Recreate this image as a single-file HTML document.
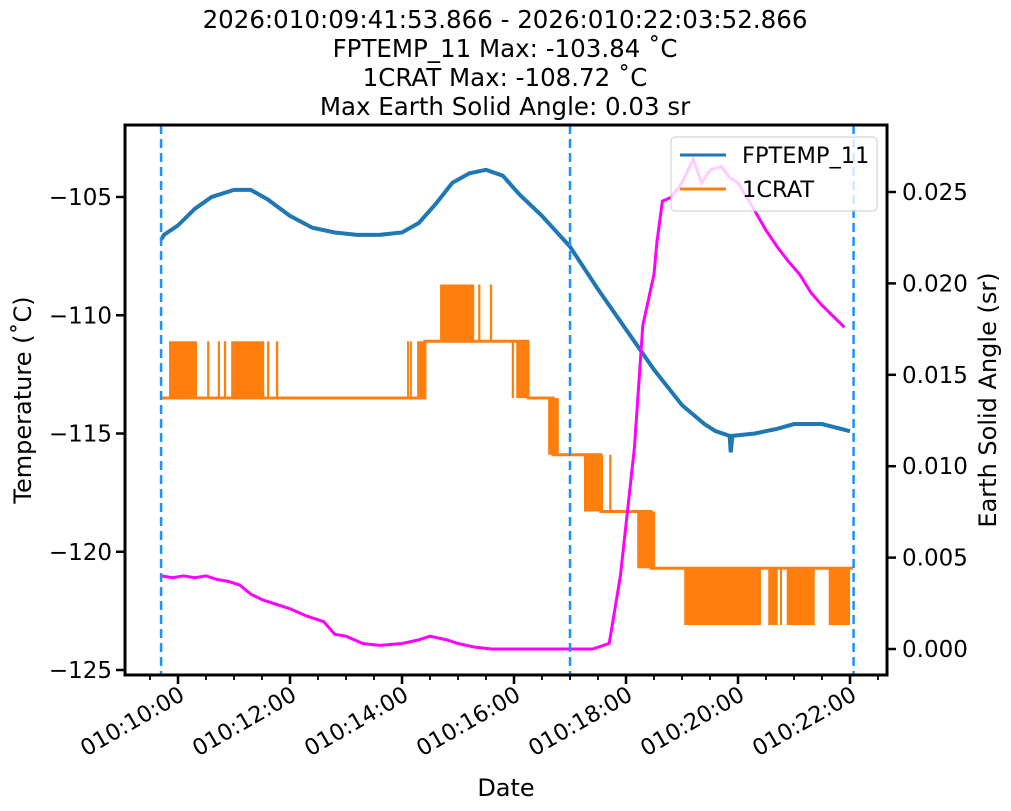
<!DOCTYPE html>
<html><head><meta charset="utf-8"><style>
html,body{margin:0;padding:0;background:#fff;}
svg{display:block;font-family:"DejaVu Sans","Liberation Sans",sans-serif;}
</style></head><body>
<svg id="chart" width="1011" height="811" viewBox="0 0 1011 811">
<g font-size="24.5" text-anchor="middle" fill="#000">
<text x="505" y="28">2026:010:09:41:53.866 - 2026:010:22:03:52.866</text>
<text x="505" y="57">FPTEMP_11 Max: -103.84 ˚C</text>
<text x="505" y="86">1CRAT Max: -108.72 ˚C</text>
<text x="505" y="115">Max Earth Solid Angle: 0.03 sr</text>
</g>
<g id="plot"></g>
</svg>
<script>
const xTicks=[10,12,14,16,18,20,22];
const xTickLabels=["010:10:00","010:12:00","010:14:00","010:16:00","010:18:00","010:20:00","010:22:00"];
const yTicks=[-105,-110,-115,-120,-125];
const y2Ticks=[0,0.005,0.010,0.015,0.020,0.025];
const y2TickLabels=["0.000","0.005","0.010","0.015","0.020","0.025"];
const vlines=[9.698,17.0,22.064];
const fpT=[9.7,9.75,10.0,10.3,10.6,11.0,11.3,11.6,12.0,12.4,12.8,13.2,13.6,14.0,14.3,14.6,14.9,15.2,15.5,15.8,16.1,16.5,17.0,17.5,18.0,18.5,19.0,19.4,19.6,19.85,19.87,19.9,20.3,20.7,21.0,21.5,22.0];
const fpV=[-106.8,-106.6,-106.2,-105.5,-105.0,-104.7,-104.7,-105.1,-105.8,-106.3,-106.5,-106.6,-106.6,-106.5,-106.1,-105.3,-104.4,-104.0,-103.85,-104.1,-104.9,-105.8,-107.1,-108.9,-110.6,-112.3,-113.8,-114.6,-114.9,-115.1,-115.8,-115.1,-115.0,-114.8,-114.6,-114.6,-114.9];
const crStepT=[9.7,14.41,16.25,16.7,17.55,18.45,22.05];
const crStepV=[-113.5,-111.1,-113.5,-115.9,-118.3,-120.7];
const bandT0=[9.84,10.52,10.71,10.82,10.95,11.59,11.75,14.09,14.14,14.27,14.68,15.36,15.57,15.96,16.04,16.61,17.25,17.70,18.2,19.04,20.54,20.75,20.87,21.20,21.62];
const bandT1=[10.34,10.56,10.75,10.86,11.54,11.63,11.79,14.11,14.17,14.41,15.29,15.40,15.61,16.0,16.25,16.80,17.59,17.74,18.52,20.41,20.71,20.78,21.37,21.36,22.0];
const bandLo=[-113.5,-113.5,-113.5,-113.5,-113.5,-113.5,-113.5,-113.5,-113.5,-113.5,-111.1,-111.1,-111.1,-113.5,-113.5,-115.9,-118.3,-118.3,-120.7,-123.1,-123.1,-123.1,-123.1,-123.1,-123.1];
const bandHi=[-111.1,-111.1,-111.1,-111.1,-111.1,-111.1,-111.1,-111.1,-111.1,-111.1,-108.7,-108.7,-108.7,-111.1,-111.1,-113.5,-115.9,-115.9,-118.3,-120.7,-120.7,-120.7,-120.7,-120.7,-120.7];
const esT=[9.7,9.9,10.1,10.3,10.5,10.7,10.9,11.1,11.3,11.5,11.7,12.0,12.3,12.6,12.8,13.0,13.3,13.6,14.0,14.3,14.5,14.8,15.0,15.3,15.6,16.0,16.5,17.0,17.4,17.7,17.9,18.0,18.15,18.3,18.5,18.55,18.65,18.8,19.0,19.2,19.35,19.5,19.7,19.85,20.0,20.2,20.5,20.7,20.9,21.1,21.3,21.5,21.7,21.9];
const esV=[0.0040,0.0039,0.0040,0.0039,0.0040,0.0038,0.0037,0.0035,0.0030,0.0027,0.0025,0.0022,0.0018,0.0015,0.0008,0.0007,0.0003,0.0002,0.0003,0.0005,0.0007,0.0005,0.0003,0.0001,0.0,0.0,0.0,0.0,0.0,0.0003,0.0040,0.0068,0.0110,0.0177,0.0205,0.0222,0.0245,0.0247,0.0255,0.0268,0.0255,0.0262,0.0264,0.0258,0.0255,0.0245,0.0229,0.0220,0.0212,0.0205,0.0195,0.0188,0.0182,0.0176];

const L=125,R=887,T=125,B=675;
const X=t=>178+(t-10)*56;
const Y=v=>197+(-105-v)*23.65;
const Y2=v=>649-v*18280;
const NS="http://www.w3.org/2000/svg";
const plot=document.getElementById('plot');
function mk(tag,attrs,parent){const e=document.createElementNS(NS,tag);for(const k in attrs)e.setAttribute(k,attrs[k]);(parent||plot).appendChild(e);return e;}
const clip=mk('clipPath',{id:'clp'});mk('rect',{x:L,y:T,width:R-L,height:B-T},clip);
const g=mk('g',{'clip-path':'url(#clp)'});


for(let i=0;i<bandT0.length;i++){
 const r=mk('rect',{x:X(bandT0[i]),y:Y(bandHi[i]),width:Math.max(2,X(bandT1[i])-X(bandT0[i])),height:Y(bandLo[i])-Y(bandHi[i]),fill:'#ff7f0e'},g);
 
 
}
let d='';
for(let i=0;i<crStepV.length;i++){d+=(i?'L':'M')+X(crStepT[i])+','+Y(crStepV[i])+'L'+X(crStepT[i+1])+','+Y(crStepV[i]);}
const cr=mk('path',{d:d,fill:'none',stroke:'#ff7f0e','stroke-width':3},g);


const fp=mk('polyline',{points:fpT.map((t,i)=>X(t)+','+Y(fpV[i])).join(' '),fill:'none',stroke:'#1f77b4','stroke-width':4},g);


const es=mk('polyline',{points:esT.map((t,i)=>X(t)+','+Y2(esV[i])).join(' '),fill:'none',stroke:'#ff00ff','stroke-width':3},g);


vlines.forEach(t=>{const l=mk('line',{x1:X(t),x2:X(t),y1:T,y2:B,stroke:'#1e90ff','stroke-width':2.5,'stroke-dasharray':'9,5'},g);
 
 });
const fr=mk('rect',{x:L,y:T,width:R-L,height:B-T,fill:'none',stroke:'#000','stroke-width':3});


xTicks.forEach((t,i)=>{mk('line',{x1:X(t),x2:X(t),y1:B,y2:B+9,stroke:'#000','stroke-width':2.5});
 const tx=mk('text',{x:X(t)+8,y:B+24,'font-size':22.5,'text-anchor':'end',transform:`rotate(-30 ${X(t)+8} ${B+24})`});
 tx.textContent=xTickLabels[i];
 
 });
for(let t=9;t<=22.5;t+=0.5){if(X(t)>L&&X(t)<R)mk('line',{x1:X(t),x2:X(t),y1:B,y2:B+5,stroke:'#000','stroke-width':1.8});}
yTicks.forEach(v=>{mk('line',{x1:L-9,x2:L,y1:Y(v),y2:Y(v),stroke:'#000','stroke-width':2.5});
 const tx=mk('text',{x:L-13,y:Y(v)+8,'font-size':23,'text-anchor':'end'});tx.textContent='\u2212'+(-v);
 
 });
y2Ticks.forEach((v,i)=>{mk('line',{x1:R,x2:R+9,y1:Y2(v),y2:Y2(v),stroke:'#000','stroke-width':2.5});
 const tx=mk('text',{x:R+15,y:Y2(v)+8,'font-size':23});tx.textContent=y2TickLabels[i];
 
 });
const xl=mk('text',{x:506,y:796,'font-size':24,'text-anchor':'middle'});xl.textContent='Date';


const yl=mk('text',{x:0,y:0,'font-size':24,'text-anchor':'middle',transform:'translate(31 400) rotate(-90)'});yl.textContent='Temperature (˚C)';


const yl2=mk('text',{x:0,y:0,'font-size':24,'text-anchor':'middle',transform:'translate(996 400) rotate(-90)'});yl2.textContent='Earth Solid Angle (sr)';


const lg=mk('g',{});


mk('rect',{x:671,y:137,width:206,height:74,rx:4,fill:'rgba(255,255,255,0.8)',stroke:'#ccc','stroke-width':1},lg);
mk('line',{x1:680,x2:726,y1:155,y2:155,stroke:'#1f77b4','stroke-width':3},lg);
mk('line',{x1:680,x2:726,y1:189,y2:189,stroke:'#ff7f0e','stroke-width':3},lg);
const l1=mk('text',{x:742,y:163,'font-size':22.5},lg);l1.textContent='FPTEMP_11';


const l2=mk('text',{x:742,y:197,'font-size':22.5},lg);l2.textContent='1CRAT';


</script>
</body></html>
